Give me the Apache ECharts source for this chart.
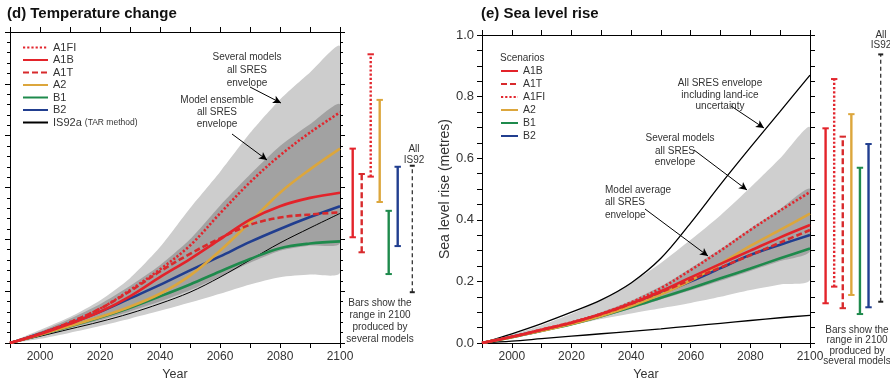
<!DOCTYPE html>
<html><head><meta charset="utf-8">
<script src="https://cdn.jsdelivr.net/npm/echarts@6/dist/echarts.min.js"></script>
<style>html,body{margin:0;padding:0;background:#fff}#c{width:890px;height:390px}</style>
</head><body><div id="c"></div>
<script>
// ---------- data ----------
const years = [1990,2000,2010,2020,2030,2040,2050,2060,2070,2080,2090,2100];
// (d) Temperature change (deg C)
const tA1FI  = [0,0.18,0.40,0.66,1.02,1.42,1.88,2.50,3.10,3.62,4.06,4.45];
const tA1B   = [0,0.17,0.37,0.60,0.90,1.27,1.62,2.00,2.38,2.64,2.80,2.90];
const tA1T   = [0,0.18,0.40,0.66,1.00,1.38,1.72,2.02,2.28,2.42,2.48,2.52];
const tA2    = [0,0.16,0.33,0.50,0.70,0.95,1.30,1.78,2.33,2.90,3.35,3.75];
const tB1    = [0,0.16,0.32,0.49,0.68,0.90,1.13,1.38,1.62,1.83,1.92,1.96];
const tB2    = [0,0.18,0.38,0.60,0.86,1.12,1.40,1.67,1.95,2.20,2.43,2.64];
const tIS92a = [0,0.13,0.27,0.41,0.57,0.76,0.98,1.27,1.60,1.93,2.22,2.50];
const tLightLo = [0,0.08,0.20,0.33,0.47,0.62,0.78,0.95,1.13,1.27,1.32,1.36];
const tLightHi = [0,0.25,0.50,0.82,1.25,1.85,2.60,3.30,4.05,4.70,5.22,5.72];
const tDarkLo  = [0,0.14,0.29,0.44,0.61,0.80,1.02,1.28,1.55,1.78,1.88,1.93];
const tDarkHi  = [0,0.22,0.47,0.75,1.10,1.50,2.00,2.65,3.25,3.80,4.22,4.60];
const tBarNames = ['A1B','A1T','A1FI','A2','B1','B2','IS92'];
const tBarLow   = [2.04,1.75,3.21,2.72,1.33,1.87,0.98];
const tBarHigh  = [3.75,3.26,5.57,4.69,2.55,3.40,3.42];
// (e) Sea level rise (metres)
const sA1FI = [0,0.020,0.043,0.067,0.095,0.132,0.178,0.237,0.300,0.367,0.430,0.490];
const sA1B  = [0,0.020,0.043,0.066,0.094,0.128,0.168,0.213,0.257,0.300,0.343,0.383];
const sA1T  = [0,0.020,0.043,0.066,0.094,0.127,0.165,0.205,0.245,0.285,0.326,0.367];
const sA2   = [0,0.019,0.040,0.062,0.088,0.120,0.158,0.203,0.257,0.315,0.367,0.420];
const sB1   = [0,0.019,0.040,0.061,0.087,0.116,0.147,0.178,0.210,0.242,0.275,0.307];
const sB2   = [0,0.020,0.041,0.064,0.091,0.122,0.160,0.200,0.243,0.286,0.319,0.351];
const sLightLo = [0,0.015,0.035,0.058,0.078,0.096,0.113,0.130,0.150,0.172,0.190,0.205];
const sLightHi = [0,0.028,0.058,0.095,0.140,0.195,0.260,0.335,0.415,0.505,0.600,0.700];
const sDarkLo  = [0,0.018,0.038,0.058,0.083,0.111,0.141,0.171,0.202,0.234,0.266,0.298];
const sDarkHi  = [0,0.021,0.045,0.070,0.100,0.137,0.184,0.243,0.305,0.372,0.435,0.500];
const sIceHi   = [0,0.030,0.063,0.100,0.140,0.195,0.275,0.390,0.515,0.635,0.752,0.870];
const sIceLo   = [0,0.006,0.014,0.022,0.030,0.038,0.046,0.055,0.064,0.073,0.082,0.090];
const sBarNames = ['A1B','A1FI','A1T','A2','B1','B2','IS92'];
const sBarLow   = [0.129,0.183,0.113,0.156,0.094,0.116,0.134];
const sBarHigh  = [0.697,0.857,0.670,0.743,0.569,0.646,0.937];
// tick labels
const yTickLabelsSL = ['0.0','0.2','0.4','0.6','0.8','1.0'];

// ---------- styles ----------
const FONT = '"Liberation Sans", Arial, sans-serif';
const sty = {
  A1FI: {color:'#e2262e', type:[2.2,2]},
  A1B:  {color:'#e3232a', type:'solid'},
  A1T:  {color:'#d82a2c', type:[6,3]},
  A2:   {color:'#dca63c', type:'solid'},
  B1:   {color:'#1e8a4c', type:'solid'},
  B2:   {color:'#213e8f', type:'solid'},
  IS92: {color:'#222222', type:[4,3]}
};
const pair = arr => arr.map((v,i)=>[years[i], v]);

function lineSeries(name, arr, key, ax, width, z, marks){
  const s = sty[key] || {color:'#000', type:'solid'};
  const o = {type:'line', name, xAxisIndex:ax, yAxisIndex:ax, data:pair(arr), symbol:'none',
    smooth:0.35, z, lineStyle:{color:s.color, width, type:s.type}, itemStyle:{color:s.color}};
  if (marks) o.markLine = {silent:true, symbol:['none','arrow'], symbolSize:[6,8], animation:false,
    label:{show:false}, lineStyle:{color:'#000', width:1, type:'solid'}, data:marks};
  return o;
}
function band(lo, hi, ax, color, z){
  return {type:'custom', xAxisIndex:ax, yAxisIndex:ax, z, silent:true, clip:true,
    encode:{x:0, y:[1,2]},
    data: years.map((y,i)=>[y, lo[i], hi[i]]),
    renderItem:(params, api) => {
      if (params.dataIndex !== 0) return null;
      const pts = [];
      for (let i=0;i<years.length;i++) pts.push(api.coord([years[i], hi[i]]));
      for (let i=years.length-1;i>=1;i--) pts.push(api.coord([years[i], lo[i]]));
      return {type:'polygon', shape:{points:pts, smooth:0.22}, style:{fill:color}};
    }};
}
function barRender(names, shift){
  return function(params, api){
    const idx = api.value(0), lo = api.value(1), hi = api.value(2);
    const pos = idx < 6 ? idx : idx + shift;
    const a = api.coord([pos, lo]), b = api.coord([pos, hi]);
    const nm = names[params.dataIndex];
    const s = sty[nm];
    const bw = nm==='IS92' ? 1.2 : 2.4;
    const dash = Array.isArray(s.type) ? s.type : null;
    const cw = nm==='IS92' ? 2.5 : 3.2;
    return {type:'group', children:[
      {type:'line', shape:{x1:a[0],y1:a[1],x2:b[0],y2:b[1]}, style:{stroke:s.color, lineWidth:bw, lineDash:dash}},
      {type:'line', shape:{x1:a[0]-cw,y1:a[1],x2:a[0]+cw,y2:a[1]}, style:{stroke:s.color, lineWidth:2}},
      {type:'line', shape:{x1:b[0]-cw,y1:b[1],x2:b[0]+cw,y2:b[1]}, style:{stroke:s.color, lineWidth:2}}
    ]};
  };
}
const axLine = {show:true, onZero:false, lineStyle:{color:'#000', width:1}};
function xAx(grid, pos, labels, name){
  return {type:'value', gridIndex:grid, position:pos, min:1990, max:2100, interval:10,
    axisLine:axLine, axisTick:{show:true, length:5, lineStyle:{color:'#000'}}, splitLine:{show:false},
    axisLabel:{show:labels, margin:8, fontSize:12, color:'#333', fontFamily:FONT,
      formatter:v => (v%20===0 ? String(v) : '')},
    name: name||'', nameLocation:'middle', nameGap:22, nameTextStyle:{fontSize:12.5, color:'#333', fontFamily:FONT}};
}
function yAx(grid, pos, max, interval, minorSplit, minorLen, labels){
  return {type:'value', gridIndex:grid, position:pos, min:0, max, interval,
    axisLine:axLine, axisTick:{show:true, length:5, lineStyle:{color:'#000'}},
    minorTick:{show:true, splitNumber:minorSplit, length:minorLen, lineStyle:{color:'#000'}},
    splitLine:{show:false}, minorSplitLine:{show:false},
    axisLabel:{show:labels, margin:8, fontSize:13, color:'#333', fontFamily:FONT,
      formatter:v => yTickLabelsSL[Math.round(v/0.2)] || ''}};
}
const txt = (x,y,t,align,size,color) => ({type:'text', x, y, silent:true, z:50,
  style:{text:t, fill:color||'#333', font:(size||10)+'px '+FONT, align:align||'center', verticalAlign:'middle'}});

const option = {
  animation:false,
  backgroundColor:'#fff',
  title:[
    {text:'(d) Temperature change', left:7, top:6, padding:0, textStyle:{fontSize:15, fontWeight:'bold', color:'#111', fontFamily:FONT}},
    {text:'(e) Sea level rise', left:481, top:6, padding:0, textStyle:{fontSize:15, fontWeight:'bold', color:'#111', fontFamily:FONT}}
  ],
  grid:[
    {left:10, top:32, width:330, height:311},
    {left:482, top:35, width:328, height:308},
    {left:343.7, top:32, width:81, height:311},
    {left:817, top:35, width:74.1, height:308}
  ],
  xAxis:[
    xAx(0,'bottom',true,'Year'), xAx(0,'top',false),
    xAx(1,'bottom',true,'Year'), xAx(1,'top',false),
    {type:'value', gridIndex:2, min:-1, max:8, show:false},
    {type:'value', gridIndex:3, min:-1, max:7.5, show:false}
  ],
  yAxis:[
    yAx(0,'left',6,1,5,3,false), yAx(0,'right',6,1,5,3,false),
    Object.assign(yAx(1,'left',1,0.2,4,5,true), {name:'Sea level rise (metres)', nameLocation:'middle', nameGap:27,
      nameTextStyle:{fontSize:14, color:'#333', fontFamily:FONT}}),
    yAx(1,'right',1,0.2,4,5,false),
    {type:'value', gridIndex:2, min:0, max:6, show:false},
    {type:'value', gridIndex:3, min:0, max:1, show:false}
  ],
  legend:[
    {orient:'vertical', left:22, top:42, itemWidth:25, itemHeight:12, itemGap:1.5, padding:0,
      itemStyle:{opacity:0},
      data:['A1FI','A1B','A1T','A2','B1','B2','IS92a (TAR method)'],
      textStyle:{fontSize:11, color:'#333', fontFamily:FONT, rich:{s:{fontSize:8.5, color:'#333', fontFamily:FONT}}},
      formatter:n => n==='IS92a (TAR method)' ? 'IS92a {s|(TAR method)}' : n, selectedMode:false},
    {orient:'vertical', left:500, top:65.5, itemWidth:17, itemHeight:10, itemGap:2, padding:0,
      itemStyle:{opacity:0},
      data:['A1B','A1T','A1FI','A2','B1','B2'],
      textStyle:{fontSize:10.5, color:'#333', fontFamily:FONT}, selectedMode:false}
  ],
  graphic:[
    txt(247,57,'Several models'), txt(247,70,'all SRES'), txt(247,83,'envelope'),
    txt(217,100,'Model ensemble'), txt(217,112.5,'all SRES'), txt(217,124,'envelope'),
    txt(414,149,'All'), txt(414,160,'IS92'),
    txt(380,303,'Bars show the'), txt(380,315,'range in 2100'), txt(380,327,'produced by'), txt(380,339,'several models'),
    txt(720,83,'All SRES envelope'), txt(720,95,'including land-ice'), txt(720,106,'uncertainty'),
    txt(680,138,'Several models'), txt(675,151,'all SRES'), txt(675,162,'envelope'),
    txt(605,190,'Model average','left'), txt(605,202.5,'all SRES','left'), txt(605,215,'envelope','left'),
    txt(881,35,'All'), txt(881,45.5,'IS92'),
    txt(857,330,'Bars show the'), txt(857,340.5,'range in 2100'), txt(857,351,'produced by'), txt(857,361.5,'several models'),
    txt(500,58,'Scenarios','left',10)
  ],
  series:[
    band(tLightLo, tLightHi, 0, '#cdcdcd', 1),
    band(tDarkLo, tDarkHi, 0, '#a2a2a2', 2),
    lineSeries('IS92a (TAR method)', tIS92a, 'x', 0, 1, 5,
      [[{x:250,y:87},{x:281,y:103}], [{x:232,y:134},{x:267,y:160}]]),
    lineSeries('B1', tB1, 'B1', 0, 2.6, 6),
    lineSeries('B2', tB2, 'B2', 0, 2.6, 6),
    lineSeries('A2', tA2, 'A2', 0, 2.6, 7),
    lineSeries('A1T', tA1T, 'A1T', 0, 2.6, 8),
    lineSeries('A1B', tA1B, 'A1B', 0, 2.6, 8),
    lineSeries('A1FI', tA1FI, 'A1FI', 0, 2.6, 9),
    band(sLightLo, sLightHi, 2, '#cfcfcf', 1),
    band(sDarkLo, sDarkHi, 2, '#a6a6a6', 2),
    lineSeries('ice-hi', sIceHi, 'x', 2, 1.3, 5,
      [[{x:731,y:106},{x:764,y:128}], [{x:694,y:150},{x:747,y:190}], [{x:645,y:209},{x:708,y:256}]]),
    lineSeries('ice-lo', sIceLo, 'x', 2, 1.3, 5),
    lineSeries('B1', sB1, 'B1', 2, 2.6, 6),
    lineSeries('B2', sB2, 'B2', 2, 2.6, 6),
    lineSeries('A2', sA2, 'A2', 2, 2.6, 7),
    lineSeries('A1T', sA1T, 'A1T', 2, 2.6, 8),
    lineSeries('A1B', sA1B, 'A1B', 2, 2.6, 8),
    lineSeries('A1FI', sA1FI, 'A1FI', 2, 2.6, 9),
    {type:'custom', name:'tBars', xAxisIndex:4, yAxisIndex:4, clip:false, silent:true,
      renderItem:barRender(tBarNames, 0.62), data:tBarNames.map((n,i)=>[i, tBarLow[i], tBarHigh[i]])},
    {type:'custom', name:'sBars', xAxisIndex:5, yAxisIndex:5, clip:false, silent:true,
      renderItem:barRender(sBarNames, 0.42), data:sBarNames.map((n,i)=>[i, sBarLow[i], sBarHigh[i]])}
  ]
};
echarts.init(document.getElementById('c')).setOption(option);
</script></body></html>
